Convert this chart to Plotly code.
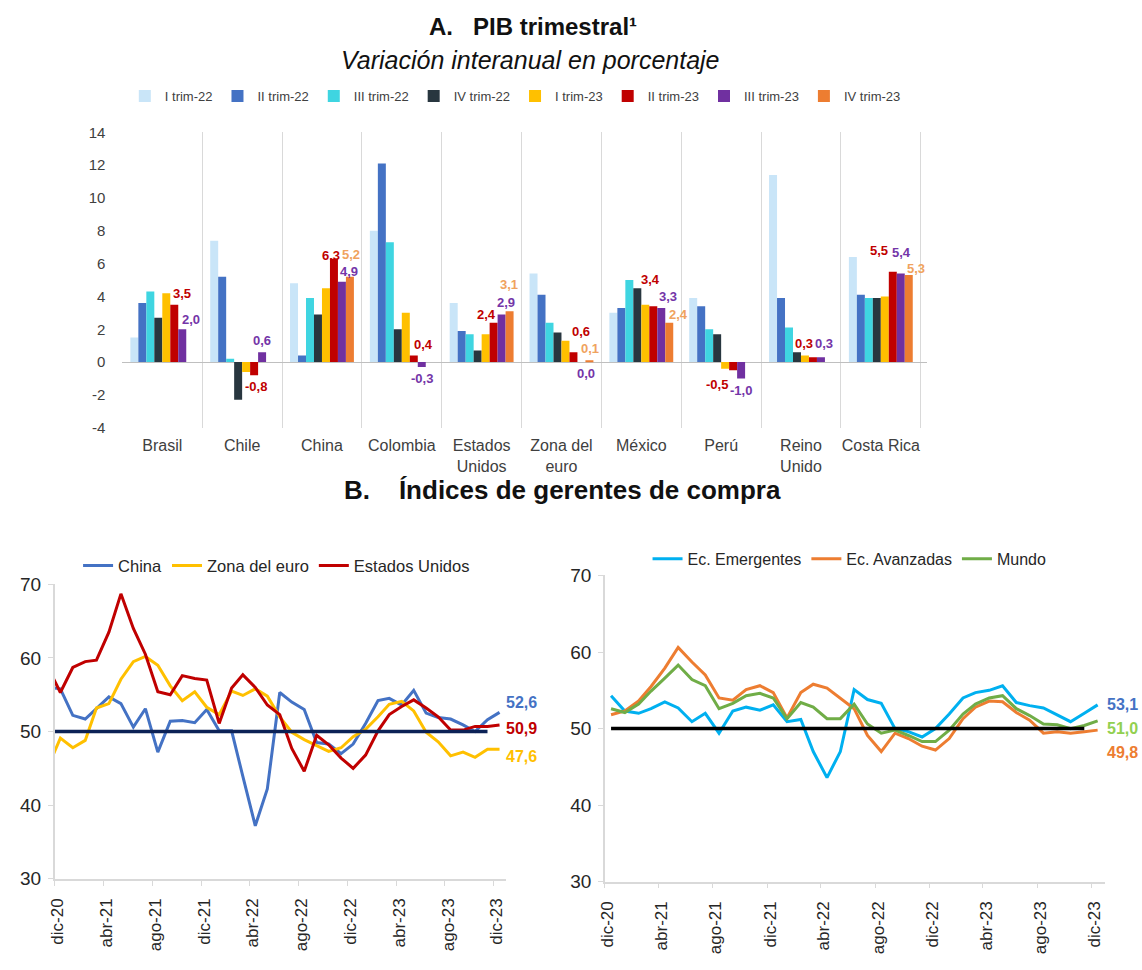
import pandas as pd
import plotly.graph_objects as go

ANCHO, ALTO = 1142, 970
FUENTE = 'Liberation Sans, Arial, sans-serif'

# ---------------- Panel A: PIB trimestral ----------------
paises = ['Brasil', 'Chile', 'China', 'Colombia', 'Estados<br>Unidos',
          'Zona del<br>euro', 'México', 'Perú', 'Reino<br>Unido', 'Costa Rica']
trimestres = ['I trim-22', 'II trim-22', 'III trim-22', 'IV trim-22',
              'I trim-23', 'II trim-23', 'III trim-23', 'IV trim-23']

pib_i_trim_22 = [1.5, 7.4, 4.8, 8.0, 3.6, 5.4, 3.0, 3.9, 11.4, 6.4]
pib_ii_trim_22 = [3.6, 5.2, 0.4, 12.1, 1.9, 4.1, 3.3, 3.4, 3.9, 4.1]
pib_iii_trim_22 = [4.3, 0.2, 3.9, 7.3, 1.7, 2.4, 5.0, 2.0, 2.1, 3.9]
pib_iv_trim_22 = [2.7, -2.3, 2.9, 2.0, 0.7, 1.8, 4.5, 1.7, 0.6, 3.9]
pib_i_trim_23 = [4.2, -0.6, 4.5, 3.0, 1.7, 1.3, 3.5, -0.4, 0.4, 4.0]
pib_ii_trim_23 = [3.5, -0.8, 6.3, 0.4, 2.4, 0.6, 3.4, -0.5, 0.3, 5.5]
pib_iii_trim_23 = [2.0, 0.6, 4.9, -0.3, 2.9, 0.0, 3.3, -1.0, 0.3, 5.4]
pib_iv_trim_23 = [None, None, 5.2, None, 3.1, 0.1, 2.4, None, None, 5.3]

series_pib = [pib_i_trim_22, pib_ii_trim_22, pib_iii_trim_22, pib_iv_trim_22,
              pib_i_trim_23, pib_ii_trim_23, pib_iii_trim_23, pib_iv_trim_23]
colores_pib = ['#C9E5F8', '#4472C4', '#3FD5E1', '#28363F',
               '#FFC000', '#C00000', '#7030A0', '#ED7D31']
# only the 2023 Q2-Q4 bars carry value labels
colores_etiqueta = [None, None, None, None, None, '#C00000', '#7435A8', '#F0A35E']

# pixel nudges (dx, dy) that keep neighbouring value labels apart
ajustes_etiqueta = {
    ('Brasil', 'II trim-23'): (8, 0), ('Brasil', 'III trim-23'): (8, -2),
    ('Chile', 'II trim-23'): (2, 0),
    ('China', 'II trim-23'): (-3, -8), ('China', 'III trim-23'): (7, -1),
    ('China', 'IV trim-23'): (1, 11),
    ('Colombia', 'II trim-23'): (10, 0),
    ('Estados<br>Unidos', 'II trim-23'): (-7, -3), ('Estados<br>Unidos', 'III trim-23'): (4, 0),
    ('Estados<br>Unidos', 'IV trim-23'): (-1, 15),
    ('Zona del<br>euro', 'II trim-23'): (7, 9), ('Zona del<br>euro', 'III trim-23'): (4, 0),
    ('México', 'II trim-23'): (-3, 15), ('México', 'III trim-23'): (6, 0),
    ('México', 'IV trim-23'): (9, -3),
    ('Perú', 'II trim-23'): (-16, -3),
    ('Reino<br>Unido', 'II trim-23'): (-9, 2), ('Reino<br>Unido', 'III trim-23'): (3, 2),
    ('Costa Rica', 'II trim-23'): (-14, 10), ('Costa Rica', 'III trim-23'): (0, 9),
    ('Costa Rica', 'IV trim-23'): (7, -5),
}

ticks_pib = [-4, -2, 0, 2, 4, 6, 8, 10, 12, 14]

# ---------------- Panel B: PMI ----------------
meses = pd.date_range('2020-11-01', '2023-12-01', freq='MS')
centro_mes = meses + pd.Timedelta(days=14)
marcas = pd.date_range('2020-12-01', '2023-12-01', freq='4MS')
etiquetas_fecha = ['dic-20', 'abr-21', 'ago-21', 'dic-21', 'abr-22',
                   'ago-22', 'dic-22', 'abr-23', 'ago-23', 'dic-23']

# nov-20 .. dic-23
pmi_china = [56.0, 55.8, 52.2, 51.7, 53.1, 54.7, 53.8, 50.6, 53.1, 47.2, 51.4, 51.5, 51.2,
             53.0, 50.1, 50.1, 43.9, 37.2, 42.2, 55.3, 54.0, 53.0, 48.5, 48.3, 47.0,
             48.3, 51.1, 54.2, 54.5, 53.6, 55.6, 52.5, 51.9, 51.7, 50.9, 50.0, 51.6, 52.6]
pmi_zona_euro = [45.3, 49.1, 47.8, 48.8, 53.2, 53.8, 57.1, 59.5, 60.2, 59.0, 56.2, 54.2, 55.4,
                 53.3, 52.3, 55.5, 54.9, 55.8, 54.8, 52.0, 49.9, 48.9, 48.1, 47.3, 47.8,
                 49.3, 50.3, 52.0, 53.7, 54.1, 52.8, 49.9, 48.6, 46.7, 47.2, 46.5, 47.6, 47.6]
pmi_eeuu = [58.6, 55.3, 58.7, 59.5, 59.7, 63.5, 68.7, 64.0, 60.5, 55.4, 55.0, 57.6, 57.2,
            57.0, 51.1, 55.9, 57.7, 56.0, 53.6, 52.3, 47.7, 44.6, 49.5, 48.2, 46.4,
            45.0, 46.8, 50.1, 52.3, 53.4, 54.3, 53.2, 52.0, 50.2, 50.2, 50.7, 50.7, 50.9]

# dic-20 .. dic-23
pmi_emergentes = [54.3, 52.3, 52.0, 52.6, 53.5, 52.7, 50.9, 52.0, 49.4, 52.3, 52.8, 52.4,
                  53.1, 50.9, 51.2, 47.0, 43.6, 47.0, 55.1, 53.8, 53.3, 50.0, 49.6, 48.9,
                  50.0, 51.9, 54.0, 54.7, 55.0, 55.6, 53.4, 53.0, 52.7, 51.8, 50.9, 52.0, 53.1]
pmi_avanzadas = [51.8, 52.3, 53.6, 55.5, 57.9, 60.6, 58.7, 57.0, 54.0, 53.7, 55.1, 55.6,
                 54.7, 51.4, 54.7, 55.8, 55.3, 54.0, 52.6, 49.1, 47.0, 49.4, 48.7, 47.7,
                 47.2, 48.7, 51.3, 52.8, 53.6, 53.5, 52.1, 51.1, 49.4, 49.6, 49.4, 49.6, 49.8]
pmi_mundo = [52.6, 52.1, 53.2, 54.9, 56.6, 58.3, 56.4, 55.6, 52.6, 53.3, 54.3, 54.6,
             54.0, 51.3, 53.4, 52.8, 51.3, 51.3, 53.2, 50.6, 49.4, 49.8, 49.1, 48.3,
             48.3, 49.8, 51.9, 53.2, 54.0, 54.3, 52.6, 51.7, 50.6, 50.5, 50.0, 50.4, 51.0]

UMBRAL = 50


def fmt(v):
    return f'{v:.1f}'.replace('.', ',')


fig = go.Figure()

# ---- bars ----
BARGAP = 0.2
A_X0, A_X1 = 117, 926
slot_px = (A_X1 - A_X0) / len(paises) * (1 - BARGAP) / len(trimestres)
fuente_etq = dict(size=13, family=FUENTE, weight='bold')

for j, (nombre, valores, color) in enumerate(zip(trimestres, series_pib, colores_pib)):
    fig.add_trace(go.Bar(
        x=paises, y=valores, name=nombre, marker=dict(color=color, line=dict(width=0)),
        xaxis='x', yaxis='y', legend='legend', hoverinfo='skip'))
    color_txt = colores_etiqueta[j]
    if not color_txt:
        continue
    desplaz = (j + 0.5 - len(trimestres) / 2) * slot_px
    for pais, v in zip(paises, valores):
        if v is None:
            continue
        dx, dy = ajustes_etiqueta.get((pais, nombre), (0, 0))
        arriba = v > 0
        fig.add_annotation(
            x=pais, y=v, xref='x', yref='y', text=fmt(v), showarrow=False,
            xshift=desplaz + dx, yanchor='bottom' if arriba else 'top',
            yshift=(2 if arriba else -2) + dy,
            font=dict(color=color_txt, **fuente_etq))

# ---- left PMI panel ----
for nombre, valores, color in [('China', pmi_china, '#4472C4'),
                               ('Zona del euro', pmi_zona_euro, '#FFC000'),
                               ('Estados Unidos', pmi_eeuu, '#C00000')]:
    fig.add_trace(go.Scatter(x=centro_mes, y=valores, name=nombre, mode='lines',
                             line=dict(color=color, width=3), xaxis='x2', yaxis='y2',
                             legend='legend2', hoverinfo='skip'))
fig.add_trace(go.Scatter(x=[centro_mes[0], centro_mes[-2]], y=[UMBRAL, UMBRAL], mode='lines',
                         line=dict(color='#0C2256', width=3.5), showlegend=False,
                         xaxis='x2', yaxis='y2', hoverinfo='skip'))

# ---- right PMI panel ----
for nombre, valores, color in [('Ec. Emergentes', pmi_emergentes, '#00B0F0'),
                               ('Ec. Avanzadas', pmi_avanzadas, '#ED7D31'),
                               ('Mundo', pmi_mundo, '#70AD47')]:
    fig.add_trace(go.Scatter(x=centro_mes[1:], y=valores, name=nombre, mode='lines',
                             line=dict(color=color, width=3), xaxis='x3', yaxis='y3',
                             legend='legend3', hoverinfo='skip'))
fig.add_trace(go.Scatter(x=[centro_mes[1], centro_mes[-2]], y=[UMBRAL, UMBRAL], mode='lines',
                         line=dict(color='#000000', width=3.5), showlegend=False,
                         xaxis='x3', yaxis='y3', hoverinfo='skip'))

# end-of-series value labels
finales = [
    ('x2', 'y2', pmi_china, '#4472C4', 10, 4),
    ('x2', 'y2', pmi_eeuu, '#C00000', -4, 4),
    ('x2', 'y2', pmi_zona_euro, '#FFC000', -7, 4),
    ('x3', 'y3', pmi_emergentes, '#4472C4', 0, 7),
    ('x3', 'y3', pmi_mundo, '#92D050', -8, 7),
    ('x3', 'y3', pmi_avanzadas, '#ED7D31', -22, 7),
]
for xr, yr, valores, color, dy, dx in finales:
    fig.add_annotation(x=centro_mes[-1], y=valores[-1], xref=xr, yref=yr, text=fmt(valores[-1]),
                       showarrow=False, xanchor='left', xshift=dx, yshift=dy,
                       font=dict(color=color, size=16, family=FUENTE, weight='bold'))

# titles
fig.add_annotation(x=530 / ANCHO, y=1 - 17 / ALTO, xref='paper', yref='paper', showarrow=False,
                   yanchor='middle', text='<b>A.\u00a0\u00a0\u00a0PIB trimestral¹</b>',
                   font=dict(size=24, color='#111111', family=FUENTE))
fig.add_annotation(x=527 / ANCHO, y=1 - 51 / ALTO, xref='paper', yref='paper', showarrow=False,
                   yanchor='middle', text='<i>Variación interanual en porcentaje</i>',
                   font=dict(size=25, color='#111111', family=FUENTE))
fig.add_annotation(x=559 / ANCHO, y=1 - 491 / ALTO, xref='paper', yref='paper', showarrow=False,
                   yanchor='middle',
                   text='<b>B.\u00a0\u00a0\u00a0\u00a0Índices de gerentes de compra</b>',
                   font=dict(size=26, color='#111111', family=FUENTE))

eje_fecha = dict(type='date', range=['2020-12-01', '2024-01-01'], tickvals=marcas,
                 ticktext=etiquetas_fecha, tickangle=-90, ticks='outside', ticklen=5,
                 tickcolor='#D9D9D9', showline=True, linecolor='#D9D9D9', linewidth=1.5,
                 showgrid=False, zeroline=False, ticklabelstandoff=6, ticklabelshift=3,
                 tickfont=dict(size=17, color='#262626'))
eje_pmi = dict(range=[30, 70], dtick=10, ticks='outside', ticklen=5, tickcolor='#D9D9D9',
               showline=True, linecolor='#D9D9D9', linewidth=1.5, showgrid=False,
               zeroline=False, ticklabelstandoff=3, tickfont=dict(size=19, color='#262626'))

fig.update_layout(
    width=ANCHO, height=ALTO, margin=dict(l=0, r=0, t=0, b=0),
    paper_bgcolor='white', plot_bgcolor='white',
    font=dict(family=FUENTE, color='#404040'),
    separators=',.',
    barmode='group', bargap=BARGAP, bargroupgap=0,
    xaxis=dict(domain=[A_X0 / ANCHO, A_X1 / ANCHO], type='category', anchor='y',
               showgrid=True, gridcolor='#D9D9D9', gridwidth=1, tickson='boundaries',
               ticks='', showline=False, zeroline=False, ticklabelstandoff=6,
               tickangle=0, tickfont=dict(size=16, color='#404040')),
    yaxis=dict(domain=[(ALTO - 427) / ALTO, (ALTO - 125) / ALTO], anchor='x',
               range=[-4, 14], tickvals=ticks_pib, ticktext=[str(t) for t in ticks_pib],
               showgrid=False, zeroline=True,
               zerolinecolor='#BFBFBF', zerolinewidth=1, showline=False, ticks='',
               ticklabelstandoff=16, tickfont=dict(size=15, color='#404040')),
    xaxis2=dict(domain=[49 / ANCHO, 503 / ANCHO], anchor='y2', **eje_fecha),
    yaxis2=dict(domain=[(ALTO - 888) / ALTO, (ALTO - 587) / ALTO], anchor='x2', **eje_pmi),
    xaxis3=dict(domain=[602 / ANCHO, 1105 / ANCHO], anchor='y3', **eje_fecha),
    yaxis3=dict(domain=[(ALTO - 891) / ALTO, (ALTO - 578) / ALTO], anchor='x3', **eje_pmi),
    legend=dict(orientation='h', x=512 / ANCHO, xanchor='center', y=1 - 88 / ALTO,
                yanchor='middle', font=dict(size=13, color='#404040'),
                bgcolor='rgba(0,0,0,0)'),
    legend2=dict(orientation='h', x=272 / ANCHO, xanchor='center', y=1 - 568 / ALTO,
                 yanchor='middle', font=dict(size=16.5, color='#262626'),
                 bgcolor='rgba(0,0,0,0)'),
    legend3=dict(orientation='h', x=848 / ANCHO, xanchor='center', y=1 - 561 / ALTO,
                 yanchor='middle', font=dict(size=16, color='#262626'),
                 bgcolor='rgba(0,0,0,0)'),
)

fig.write_html('out.html')
